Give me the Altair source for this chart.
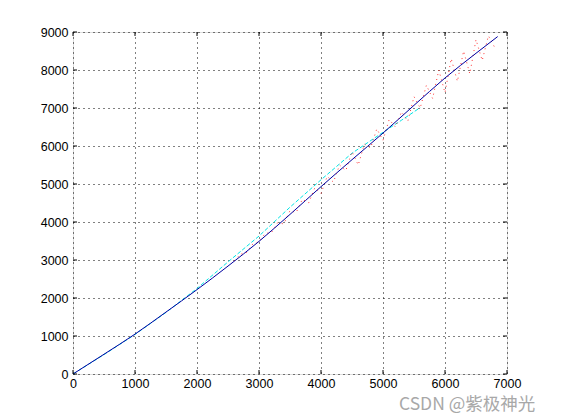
import altair as alt
import pandas as pd

# Blue solid curve
blue_x = [0, 500, 1000, 1500, 2000, 2500, 3000, 3500, 4000, 4500, 5000, 5500, 6000, 6500, 6850]
blue_y = [0, 520, 1050, 1630, 2220, 2840, 3490, 4200, 4930, 5640, 6340, 7070, 7790, 8440, 8880]

# Cyan dashed curve
cyan_x = [0, 500, 1000, 1500, 2000, 2500, 3000, 3500, 4000, 4500, 5000, 5300, 5600]
cyan_y = [0, 510, 1040, 1620, 2250, 2950, 3630, 4390, 5110, 5810, 6360, 6680, 7010]

# Red dotted noisy curve
red_x = [2600, 2700, 2800, 2900, 3000, 3100, 3200, 3300, 3400, 3500, 3600, 3700, 3800,
         3900, 4000, 4100, 4200, 4300, 4400, 4500, 4600, 4700, 4800, 4900, 5000, 5100,
         5200, 5300, 5400, 5500, 5600, 5700, 5800, 5900, 6000, 6100, 6200, 6300, 6400,
         6500, 6600, 6700, 6800]
red_y = [2980, 3150, 3200, 3420, 3480, 3700, 3720, 3980, 3950, 4300, 4250, 4600, 4500,
         4900, 4750, 5200, 5050, 5500, 5350, 5850, 5500, 6050, 5950, 6450, 6150, 6700,
         6500, 6900, 6650, 7300, 7000, 7600, 7250, 8000, 7400, 8300, 7700, 8500, 7900,
         8800, 8250, 8900, 8600]

x_ticks = [0, 1000, 2000, 3000, 4000, 5000, 6000, 7000]
y_ticks = [0, 1000, 2000, 3000, 4000, 5000, 6000, 7000, 8000, 9000]

blue_df = pd.DataFrame({"x": blue_x, "y": blue_y})
cyan_df = pd.DataFrame({"x": cyan_x, "y": cyan_y})
red_df = pd.DataFrame({"x": red_x, "y": red_y})
xt_df = pd.DataFrame({"t": x_ticks})
yt_df = pd.DataFrame({"t": y_ticks})

W, H = 434, 342
font = "Liberation Sans"

xscale = alt.Scale(domain=[0, 7000], nice=False, zero=False)
yscale = alt.Scale(domain=[0, 9000], nice=False, zero=False)

xaxis = alt.Axis(values=x_ticks, format="d", grid=True, gridDash=[1, 4], gridColor="black",
                 gridOpacity=1, ticks=False, domain=False, labelFont=font,
                 labelFontSize=12.5, labelColor="black", labelPadding=3, title=None,
                 labelFlush=False, labelOverlap=False)
yaxis = alt.Axis(values=y_ticks, format="d", grid=True, gridDash=[1, 4], gridColor="black",
                 gridOpacity=1, ticks=False, domain=False, labelFont=font,
                 labelFontSize=12.5, labelColor="black", labelPadding=5, title=None,
                 labelFlush=False, labelOverlap=False)


def X(field):
    return alt.X(field, scale=xscale, axis=xaxis)


def Y(field):
    return alt.Y(field, scale=yscale, axis=yaxis)


cyan = alt.Chart(cyan_df).mark_line(color="#00e5e5", strokeWidth=1, strokeDash=[4, 2]).encode(
    x=X("x:Q"), y=Y("y:Q"))
red = alt.Chart(red_df).mark_line(color="#ff0000", strokeWidth=1, strokeDash=[1, 4], opacity=0.8).encode(
    x=X("x:Q"), y=Y("y:Q"))
blue = alt.Chart(blue_df).mark_line(color="#0000a0", strokeWidth=1, interpolate="monotone").encode(
    x=X("x:Q"), y=Y("y:Q"))

# inward ticks
xt_bot = alt.Chart(xt_df).mark_rule(color="black").encode(
    x=X("t:Q"), y=alt.value(H), y2=alt.value(H - 4))
xt_top = alt.Chart(xt_df).mark_rule(color="black").encode(
    x=X("t:Q"), y=alt.value(0), y2=alt.value(4))
yt_left = alt.Chart(yt_df).mark_rule(color="black").encode(
    y=Y("t:Q"), x=alt.value(0), x2=alt.value(4))
yt_right = alt.Chart(yt_df).mark_rule(color="black").encode(
    y=Y("t:Q"), x=alt.value(W), x2=alt.value(W - 4))

watermark = alt.Chart(pd.DataFrame({"s": ["CSDN @紫极神光"]})).mark_text(
    align="left", baseline="alphabetic", fontSize=17.5, color="#a8a8a8",
    font="Noto Sans CJK SC").encode(text="s:N", x=alt.value(326), y=alt.value(378))

chart = alt.layer(cyan, red, blue, xt_bot, xt_top, yt_left, yt_right, watermark).properties(
    width=W, height=H,
    autosize=alt.AutoSizeParams(type="none"),
    padding={"left": 65, "top": 24, "right": 45, "bottom": 40},
).configure_view(stroke="black", strokeWidth=1).configure(background="white")

chart.save("out.html", embed_options={"renderer": "svg", "actions": False})
